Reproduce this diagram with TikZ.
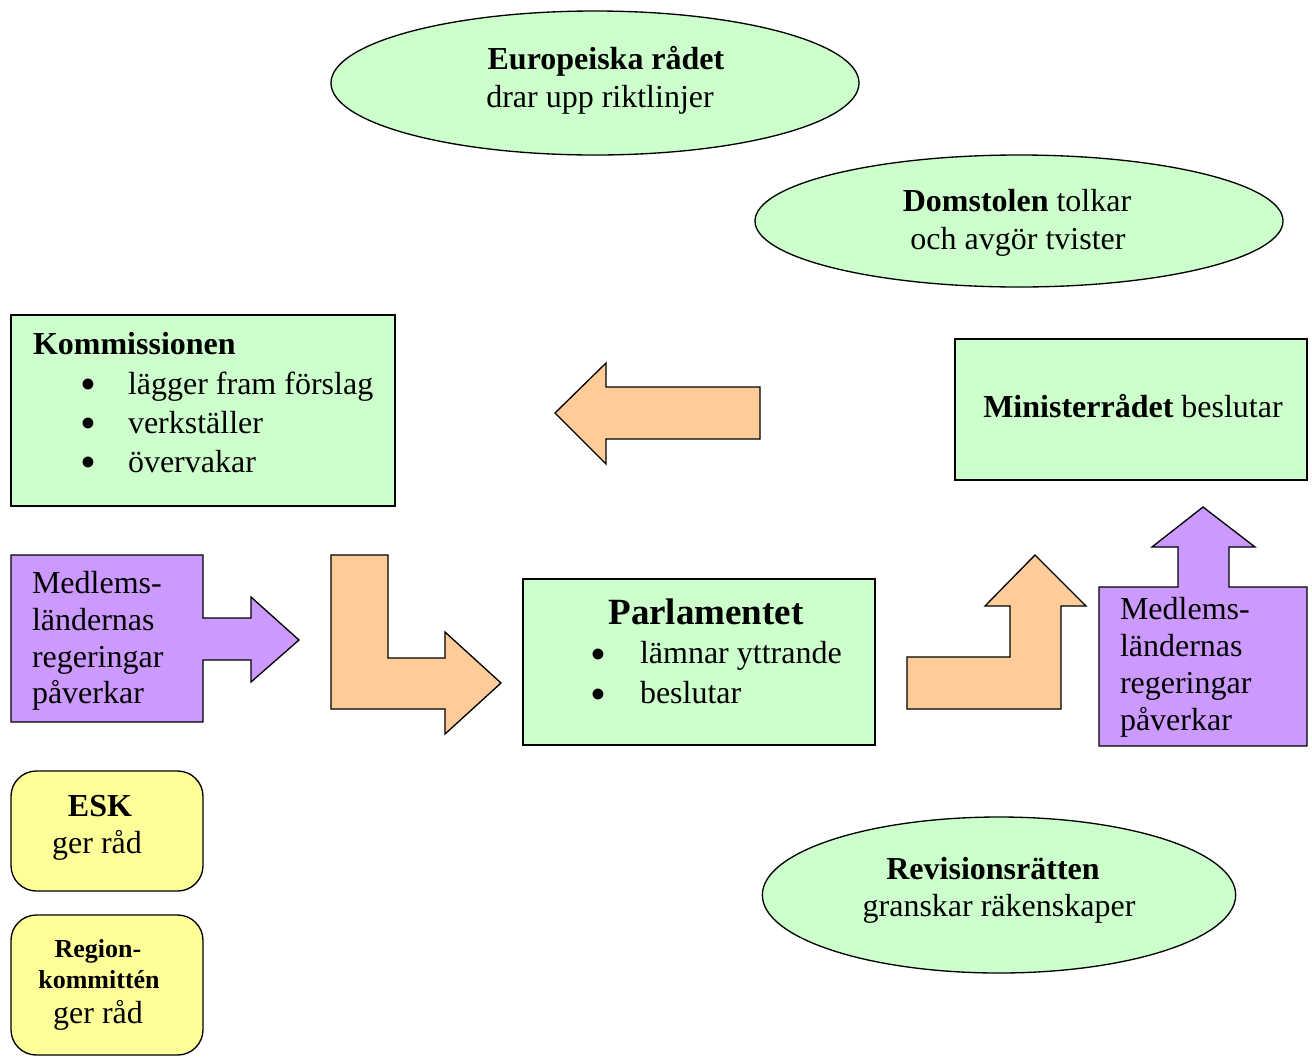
\documentclass[tikz,border=0pt]{standalone}
\usepackage{fontspec}
\setmainfont{Liberation Serif}
\usetikzlibrary{shapes.geometric,fit}
\definecolor{gfill}{HTML}{CCFFCC}
\definecolor{pfill}{HTML}{CC99FF}
\definecolor{ofill}{HTML}{FFCC99}
\definecolor{yfill}{HTML}{FFFF99}
\tikzset{
  shp/.style={draw=black, line width=1pt, line join=miter},
  gbox/.style={shp, fill=gfill, inner sep=0pt, outer sep=0pt},
  ybox/.style={shp, fill=yfill, inner sep=0pt, outer sep=0pt, rounded corners=19pt},
  gell/.style={shp, fill=gfill, ellipse, inner sep=0pt, outer sep=0pt},
  parrow/.style={shp, fill=pfill},
  oarrow/.style={shp, fill=ofill},
  txt/.style={inner sep=0pt, outer sep=0pt, font=\fontsize{24}{29}\selectfont},
  lt/.style={txt, anchor=base west},
  ct/.style={txt, anchor=base},
  bulk/.style={inner sep=0pt, outer sep=0pt, anchor=center, align=center, font=\fontsize{34}{29.25}\selectfont},
  bulp/.style={inner sep=0pt, outer sep=0pt, anchor=center, align=center, font=\fontsize{34}{30}\selectfont},
  bigtxt/.style={inner sep=0pt, anchor=base, font=\fontsize{27.75}{33}\selectfont\bfseries},
  smalltxt/.style={inner sep=0pt, anchor=base, font=\fontsize{19.5}{24}\selectfont\bfseries},
}
\begin{document}
\begin{tikzpicture}[x=0.75pt,y=-0.75pt]
\useasboundingbox (0,0) rectangle (1312,1057);

% ellipses
\node[gell, minimum width=396pt, minimum height=108pt] (eur) at (595,83) {};
\node[gell, minimum width=396pt, minimum height=99pt] (dom) at (1019,221) {};
\node[gell, minimum width=355pt, minimum height=117pt] (rev) at (999,895) {};

\node[ct] (eurA) at (606,69) {\textbf{Europeiska rådet}};
\node[ct] (eurB) at (600,107) {drar upp riktlinjer};
\node[ct] (domA) at (1017,211) {\textbf{Domstolen} tolkar};
\node[ct] (domB) at (1018,249) {och avgör tvister};
\node[ct] (revA) at (993,879) {\textbf{Revisionsrätten}};
\node[ct] (revB) at (999,916) {granskar räkenskaper};

% Kommissionen
\node[gbox, fit={(11,315) (395,506)}] (komm) {};
\node[lt] (kommT) at (33,354) {\textbf{Kommissionen}};
\node[bulk] (kbul) at (88,438) {\smash{•}\\\smash{•}\\\smash{•}};
\node[lt] (kt1) at (128,394) {lägger fram förslag};
\node[lt] (kt2) at (128,433) {verkställer};
\node[lt] (kt3) at (128,472) {övervakar};

% Ministerrådet
\node[gbox, fit={(955,339) (1307,480)}] (min) {};
\node[ct] (minT) at (1133,417) {\textbf{Ministerrådet} beslutar};

% Parlamentet
\node[gbox, fit={(523,579) (875,745)}] (parl) {};
\node[bigtxt] (parlT) at (706,624) {Parlamentet};
\node[bulp] (pbul) at (598,689) {\smash{•}\\\smash{•}};
\node[lt] (pt1) at (640,663) {lämnar yttrande};
\node[lt] (pt2) at (640,703) {beslutar};

% left purple arrow box
\draw[parrow] (11,555) -- (203,555) -- (203,618) -- (251,618) -- (251,597) -- (299,640)
  -- (251,682) -- (251,660) -- (203,660) -- (203,722) -- (11,722) -- cycle;
\node[lt] (lp1) at (32,593) {Medlems-};
\node[lt] (lp2) at (32,630) {ländernas};
\node[lt] (lp3) at (32,667) {regeringar};
\node[lt] (lp4) at (32,703) {påverkar};

% right purple arrow box
\draw[parrow] (1099,587) -- (1178,587) -- (1178,547) -- (1152,547) -- (1203,507) -- (1255,547)
  -- (1229,547) -- (1229,587) -- (1307,587) -- (1307,746) -- (1099,746) -- cycle;
\node[lt] (rp1) at (1120,619) {Medlems-};
\node[lt] (rp2) at (1120,656) {ländernas};
\node[lt] (rp3) at (1120,693) {regeringar};
\node[lt] (rp4) at (1120,730) {påverkar};

% orange arrows
\draw[oarrow] (331,555) -- (388,555) -- (388,658) -- (445,658) -- (445,632) -- (501,683)
  -- (445,734) -- (445,709) -- (331,709) -- cycle;
\draw[oarrow] (555,413) -- (606,363) -- (606,387) -- (760,387) -- (760,439) -- (606,439)
  -- (606,464) -- cycle;
\draw[oarrow] (907,657) -- (1010,657) -- (1010,606) -- (985,606) -- (1035,555) -- (1086,606)
  -- (1061,606) -- (1061,709) -- (907,709) -- cycle;

% yellow boxes
\draw[ybox] (11,771) rectangle (203,891);
\node[ct] (eskA) at (100,816) {\textbf{ESK}};
\node[ct] (eskB) at (97,853) {ger råd};
\draw[ybox] (11,915) rectangle (203,1055);
\node[smalltxt] (regA) at (98,957) {Region-};
\node[smalltxt] (regB) at (99,988) {kommittén};
\node[ct] (regC) at (98,1023) {ger råd};
\end{tikzpicture}
\end{document}
